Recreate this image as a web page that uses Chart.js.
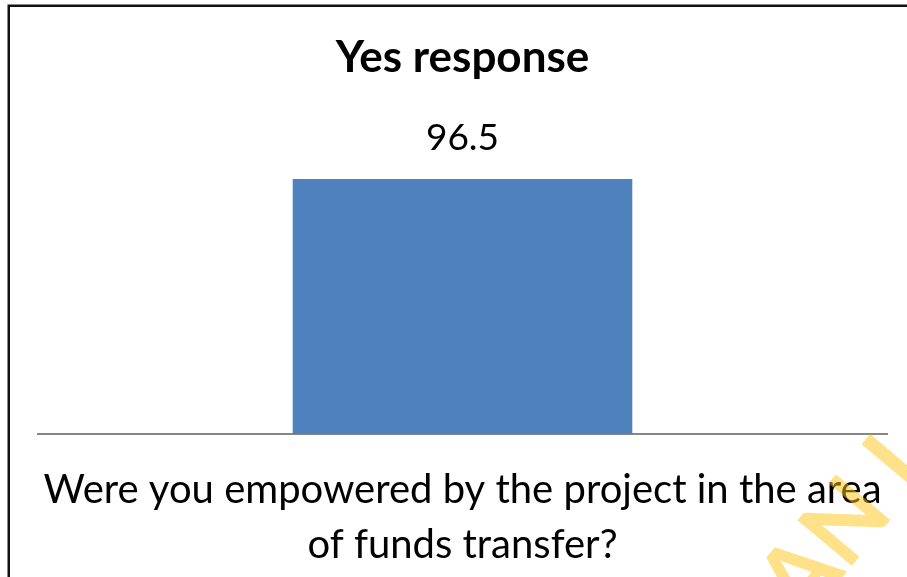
<!DOCTYPE html>
<html>
<head>
<meta charset="utf-8">
<title>Yes response</title>
<script src="https://cdn.jsdelivr.net/npm/chart.js@4"></script>
<style>
  html, body { margin: 0; padding: 0; background: #fff; }
  #wrap { width: 907px; height: 577px; }
</style>
</head>
<body>
<div id="wrap"><canvas id="chart" width="907" height="577"></canvas></div>
<script>
// data
const categories = [['Were you empowered by the project in the area', 'of funds transfer?']];
const yesValues = [96.5];
const yTicks = [0, 120];

// frame round the chart, open at the right and bottom
const framePlugin = {
    id: 'frame',
    beforeDraw(chart) {
        const c = chart.ctx;
        c.save();
        c.fillStyle = '#fff';
        c.fillRect(0, 0, chart.width, chart.height);
        c.strokeStyle = '#111';
        c.lineWidth = 2.5;
        c.beginPath();
        c.moveTo(8.75, chart.height + 2);
        c.lineTo(8.75, 5.75);
        c.lineTo(chart.width + 2, 5.75);
        c.stroke();
        c.restore();
    }
};

// value printed above each bar
const valueLabels = {
    id: 'valueLabels',
    afterDatasetsDraw(chart) {
        const c = chart.ctx;
        const meta = chart.getDatasetMeta(0);
        c.save();
        c.font = '37px Lato';
        c.fillStyle = '#000';
        c.textAlign = 'center';
        c.textBaseline = 'alphabetic';
        meta.data.forEach(function(bar, i) {
            c.fillText(String(chart.data.datasets[0].data[i]), bar.x, bar.y - 29);
        });
        c.restore();
    }
};

// faint library stamp across the lower right corner
const stamp = {
    id: 'stamp',
    afterDraw(chart) {
        const c = chart.ctx;
        const size = 98;
        c.save();
        c.translate(855, 562);            // foot of the N's first stem
        c.rotate(-50 * Math.PI / 180);
        c.font = 'bold ' + size + 'px Lato';
        c.fillStyle = 'rgba(255, 195, 20, 0.5)';
        c.textBaseline = 'alphabetic';
        const wA = c.measureText('A').width;
        c.fillText('AN L', -wA - size * 0.13, 0);
        c.restore();
    }
};

document.addEventListener('DOMContentLoaded', function() {
    const ctx = document.getElementById('chart');

    new Chart(ctx, {
        type: 'bar',
        data: {
            labels: categories,
            datasets: [{
                label: 'Yes response',
                data: yesValues,
                backgroundColor: '#4F81BD',
                borderWidth: 0,
                barPercentage: 0.4,
                categoryPercentage: 1
            }]
        },
        options: {
            responsive: false,
            animation: false,
            devicePixelRatio: 1,
            layout: {
                padding: { left: 38, right: 20, top: 0, bottom: -17 }
            },
            plugins: {
                legend: { display: false },
                tooltip: { enabled: false },
                title: {
                    display: true,
                    text: 'Yes response',
                    color: '#000',
                    font: { family: 'Lato', size: 44, weight: 'bold' },
                    padding: { top: 31, bottom: 33 }
                }
            },
            scales: {
                x: {
                    grid: { display: false },
                    border: { display: true, color: '#868686', width: 2 },
                    ticks: {
                        color: '#000',
                        font: { family: 'Lato', size: 40, lineHeight: 1.375 },
                        padding: 21,
                        maxRotation: 0,
                        autoSkip: false
                    },
                    // the long label may spill past the plot edges
                    afterFit(scale) {
                        scale.paddingLeft = 0;
                        scale.paddingRight = 0;
                    }
                },
                y: {
                    display: false,
                    min: yTicks[0],
                    max: yTicks[1]
                }
            }
        },
        plugins: [framePlugin, valueLabels, stamp]
    });
});
</script>
</body>
</html>
